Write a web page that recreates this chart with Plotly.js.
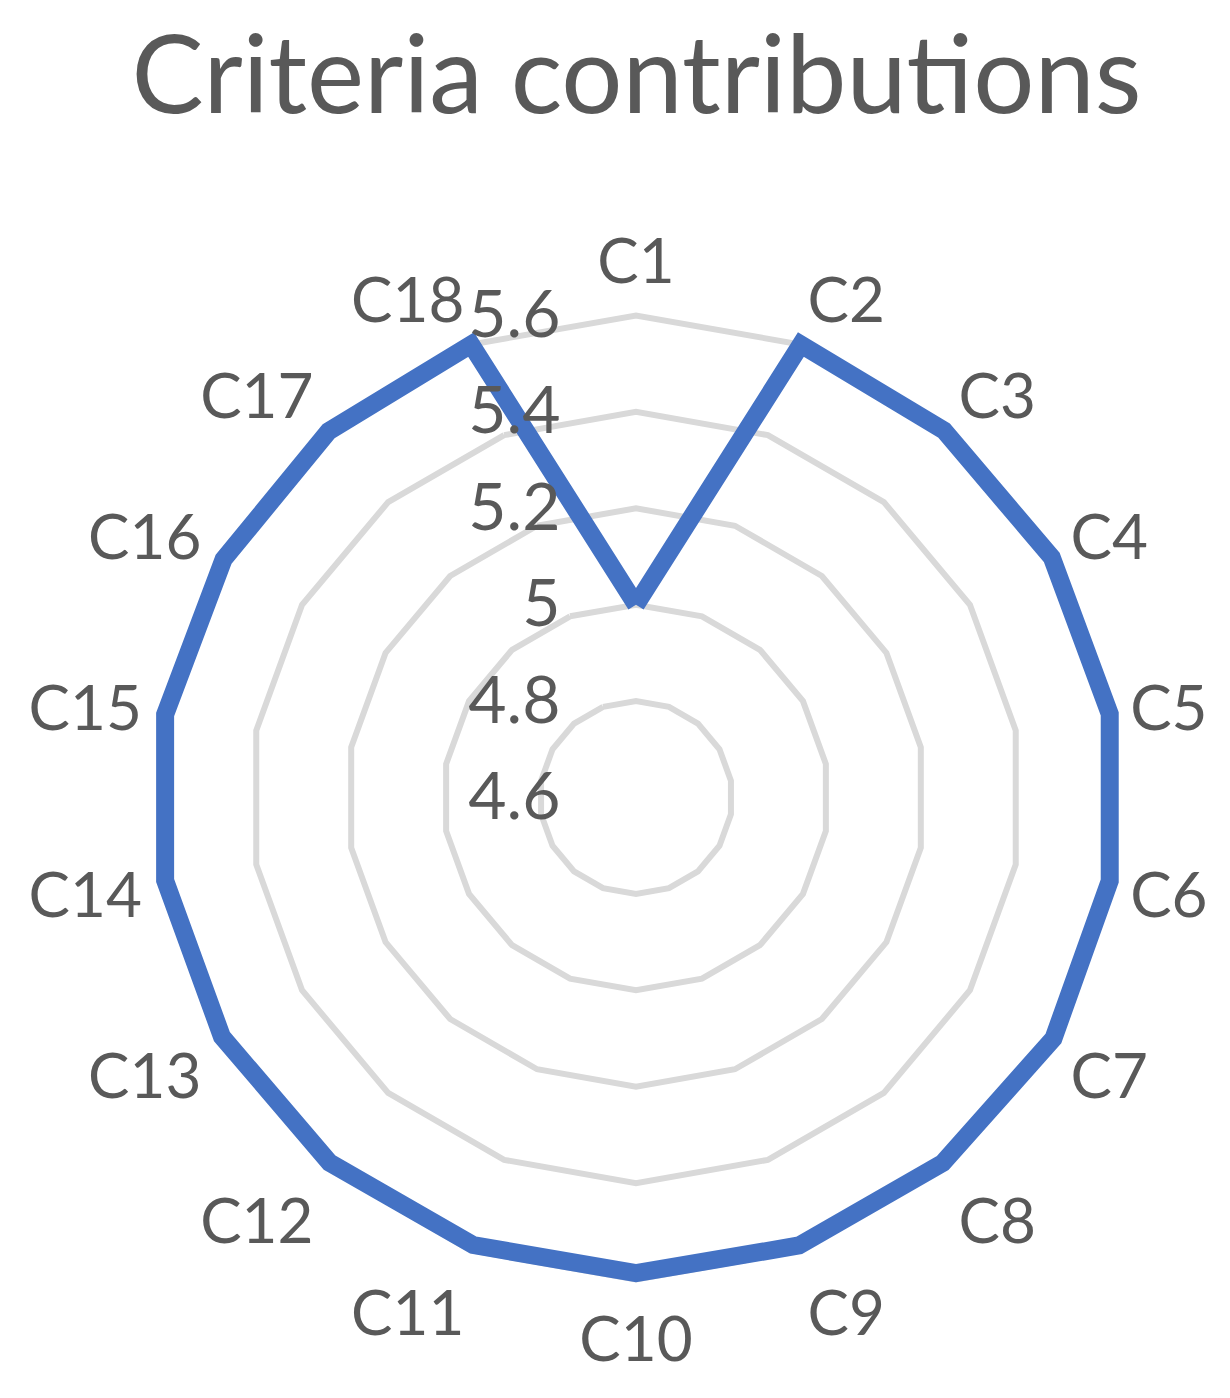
<!DOCTYPE html>
<html>
<head>
<meta charset="utf-8">
<script src="https://cdn.plot.ly/plotly-3.0.1.min.js"></script>
<style>html,body{margin:0;padding:0;background:#fff;}#chart{width:1230px;height:1398px;}</style>
</head>
<body>
<div id="chart"></div>
<script>
const categories = ["C1","C2","C3","C4","C5","C6","C7","C8","C9","C10","C11","C12","C13","C14","C15","C16","C17","C18"];
const contributions = [5.0, 5.6, 5.594, 5.596, 5.598, 5.598, 5.6, 5.59, 5.589, 5.587, 5.588, 5.589, 5.592, 5.592, 5.592, 5.588, 5.592, 5.6];
const radialTicks = [4.6, 4.8, 5.0, 5.2, 5.4, 5.6];
const radialTickText = ["4.6", "4.8", "5", "5.2", "5.4", "5.6"];

const FONT = "Lato, 'Open Sans', sans-serif";
const TXT = "#595959";

const RMIN = 4.6, RMAX = 5.64;
const PX_PER_UNIT = 482;
const R_OUT = (RMAX - RMIN) * PX_PER_UNIT;
const CX = 636, CY = 797.5;

const trace = {
  type: "scatterpolar",
  mode: "lines",
  r: contributions.concat([contributions[0]]),
  theta: categories.concat([categories[0]]),
  line: {color: "#4472C4", width: 18, shape: "linear"},
  hoverinfo: "skip"
};

const layout = {
  width: 1230,
  height: 1398,
  margin: {l: 0, r: 0, t: 0, b: 0},
  paper_bgcolor: "#ffffff",
  showlegend: false,
  title: {
    text: "Criteria contributions",
    font: {family: FONT, size: 108, color: TXT},
    x: 636.5/1230, xanchor: "center", xref: "container",
    y: 1 - 75/1398, yanchor: "middle", yref: "container"
  },
  polar: {
    domain: {x: [(CX-R_OUT)/1230, (CX+R_OUT)/1230], y: [(1398-CY-R_OUT)/1398, (1398-CY+R_OUT)/1398]},
    bgcolor: "rgba(0,0,0,0)",
    gridshape: "linear",
    radialaxis: {
      range: [RMIN, RMAX],
      tickvals: radialTicks,
      ticktext: radialTickText,
      angle: 90,
      tickangle: 90,
      side: "counterclockwise",
      showline: false,
      ticks: "outside",
      ticklen: 52,
      tickcolor: "rgba(0,0,0,0)",
      gridcolor: "#d9d9d9",
      gridwidth: 6,
      tickfont: {family: FONT, size: 66, color: TXT}
    },
    angularaxis: {
      direction: "clockwise",
      rotation: 90,
      showgrid: false,
      showline: false,
      ticks: "",
      tickfont: {family: FONT, size: 62, color: TXT}
    }
  }
};

Plotly.newPlot("chart", [trace], layout, {displayModeBar: false, staticPlot: true});
</script>
</body>
</html>
